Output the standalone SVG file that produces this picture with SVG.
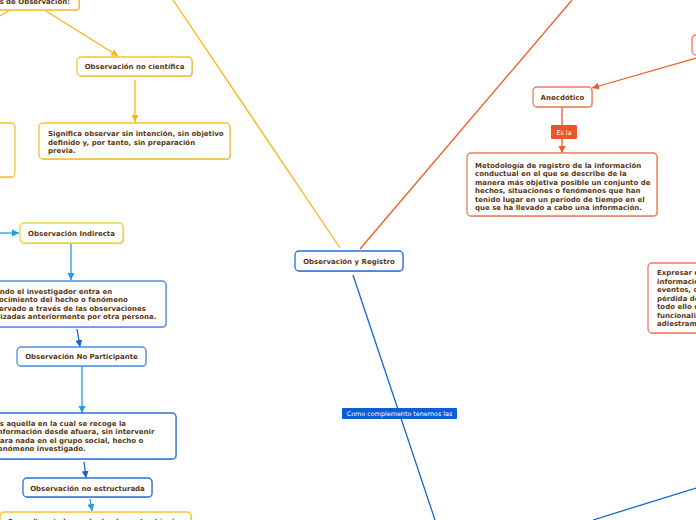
<svg xmlns="http://www.w3.org/2000/svg" width="696" height="520" viewBox="0 0 696 520">
<defs>
<style>
.t{font-family:"DejaVu Sans",Verdana,sans-serif;font-weight:bold;font-size:7px;fill:#5c3813}
.c{text-anchor:middle}
.lbl{font-family:"DejaVu Sans",Verdana,sans-serif;font-size:6.4px;fill:#ffffff;text-anchor:middle}
.box{fill:#ffffff;stroke-width:1.3}
.sh{fill:#c8c8c8}
.y{stroke:#f9c22e}
.yi{stroke:#e8d63a}
.o{stroke:#f27a58}
.b{stroke:#2a6fd8}
.bl{stroke:#4f8ee6}
.ln{fill:none;stroke-width:1.3}
</style>
<marker id="ay" markerWidth="8" markerHeight="8" refX="7" refY="4" orient="auto" markerUnits="userSpaceOnUse"><path d="M0,0.5 L7,4 L0,7.5 Z" fill="#fbb614"/></marker>
<marker id="ao" markerWidth="8" markerHeight="8" refX="7" refY="4" orient="auto" markerUnits="userSpaceOnUse"><path d="M0,0.5 L7,4 L0,7.5 Z" fill="#f15a24"/></marker>
<marker id="ab" markerWidth="8" markerHeight="8" refX="7" refY="4" orient="auto" markerUnits="userSpaceOnUse"><path d="M0,0.5 L7,4 L0,7.5 Z" fill="#1565d0"/></marker>
<marker id="alb" markerWidth="8" markerHeight="8" refX="7" refY="4" orient="auto" markerUnits="userSpaceOnUse"><path d="M0,0.5 L7,4 L0,7.5 Z" fill="#1a9ee8"/></marker>
</defs>

<g id="connectors">
<line class="ln" x1="173" y1="0" x2="340" y2="248" stroke="#fbb614"/>
<line class="ln" x1="572" y1="0" x2="360" y2="249" stroke="#f15a24"/>
<line class="ln" x1="353" y1="275" x2="435" y2="520" stroke="#1565d0"/>
<line class="ln" x1="593" y1="520" x2="696" y2="488" stroke="#1565d0"/>
<line class="ln" x1="10" y1="10" x2="0" y2="16" stroke="#fbb614"/>
<line class="ln" x1="46" y1="11" x2="118" y2="56" stroke="#fbb614" marker-end="url(#ay)"/>
<line class="ln" x1="135" y1="80" x2="135" y2="122" stroke="#fbb614" marker-end="url(#ay)"/>
<line class="ln" x1="696" y1="58" x2="592" y2="88" stroke="#f15a24" marker-end="url(#ao)"/>
<line class="ln" x1="562" y1="107" x2="562" y2="153" stroke="#f15a24" marker-end="url(#ao)"/>
<line class="ln" x1="0" y1="233" x2="19" y2="233" stroke="#1a9ee8" marker-end="url(#alb)"/>
<line class="ln" x1="71" y1="244" x2="71" y2="280" stroke="#1a9ee8" marker-end="url(#alb)"/>
<line class="ln" x1="77" y1="329" x2="80" y2="347" stroke="#1565d0" marker-end="url(#ab)"/>
<line class="ln" x1="82" y1="367" x2="82" y2="413" stroke="#1a9ee8" marker-end="url(#alb)"/>
<line class="ln" x1="84" y1="462" x2="86" y2="478" stroke="#1565d0" marker-end="url(#ab)"/>
<line class="ln" x1="90" y1="499" x2="92" y2="511" stroke="#1a9ee8" marker-end="url(#alb)"/>
</g>

<g id="label-como">
<rect x="342" y="408" width="115" height="11" rx="1" fill="#0a5fd6"/>
<text class="lbl" x="399.5" y="416">Como complemento tenemos las</text>
</g>
<g id="label-esla">
<rect x="551" y="125" width="26" height="14" rx="1" fill="#ea5628"/>
<text class="lbl" x="564" y="134.5">Es la</text>
</g>

<g id="n-tipos">
<rect class="sh" x="-59" y="-14" width="139" height="25" rx="4"/>
<rect class="box y" x="-60" y="-15" width="139" height="25" rx="4"/>
<text class="t" x="70" y="3.5" text-anchor="end">Tipos de Observación:</text>
</g>

<g id="n-noCientifica">
<rect class="sh" x="78" y="58" width="115" height="19" rx="4"/>
<rect class="box y" x="77" y="57" width="115" height="19" rx="4"/>
<text class="t c" x="134.5" y="69">Observación no científica</text>
</g>

<g id="n-significa">
<rect class="sh" x="40" y="124" width="191" height="36" rx="4"/>
<rect class="box y" x="39" y="123" width="191" height="36" rx="4"/>
<text class="t" x="48" y="136">Significa observar sin intención, sin objetivo</text>
<text class="t" x="48" y="144.5">definido y, por tanto, sin preparación</text>
<text class="t" x="48" y="153">previa.</text>
</g>

<g id="n-leftYellow">
<rect class="sh" x="-59" y="124" width="74" height="54" rx="4"/>
<rect class="box y" x="-60" y="123" width="75" height="54" rx="4"/>
</g>

<g id="n-main">
<rect class="sh" x="296" y="252" width="108" height="20" rx="4"/>
<rect class="box b" x="295" y="251" width="108" height="20" rx="4"/>
<text class="t c" x="349" y="264">Observación y Registro</text>
</g>

<g id="n-topRight">
<rect class="sh" x="693" y="36" width="60" height="20" rx="4"/>
<rect class="box o" x="692" y="35" width="60" height="20" rx="4"/>
</g>

<g id="n-anecdotico">
<rect class="sh" x="534" y="88" width="59" height="20" rx="4"/>
<rect class="box o" x="533" y="87" width="59" height="20" rx="4"/>
<text class="t c" x="562.5" y="99.5">Anecdótico</text>
</g>

<g id="n-metodologia">
<rect class="sh" x="468" y="154" width="190" height="63" rx="4"/>
<rect class="box o" x="467" y="153" width="190" height="63" rx="4"/>
<text class="t" x="475" y="167.5">Metodología de registro de la información</text>
<text class="t" x="475" y="176">conductual en el que se describe de la</text>
<text class="t" x="475" y="184.5">manera más objetiva posible un conjunto de</text>
<text class="t" x="475" y="193">hechos, situaciones o fenómenos que han</text>
<text class="t" x="475" y="201.5">tenido lugar en un período de tiempo en el</text>
<text class="t" x="475" y="210">que se ha llevado a cabo una información.</text>
</g>

<g id="n-expresar">
<rect class="sh" x="649" y="264" width="80" height="70" rx="4"/>
<rect class="box o" x="648" y="263" width="80" height="70" rx="4"/>
<text class="t" x="657" y="275">Expresar en</text>
<text class="t" x="657" y="283.5">información</text>
<text class="t" x="657" y="292">eventos, de</text>
<text class="t" x="657" y="300.5">pérdida de</text>
<text class="t" x="657" y="309">todo ello con</text>
<text class="t" x="657" y="317.5">funcionalidad</text>
<text class="t" x="657" y="326">adiestramiento</text>
</g>

<g id="n-indirecta">
<rect class="sh" x="21" y="224" width="103" height="20" rx="4"/>
<rect class="box yi" x="20" y="223" width="103" height="20" rx="4"/>
<text class="t c" x="71.5" y="235.5">Observación Indirecta</text>
</g>

<g id="n-cuando">
<rect class="sh" x="-59" y="282" width="226" height="46" rx="4"/>
<rect class="box bl" x="-60" y="281" width="226" height="46" rx="4"/>
<text class="t" x="-15" y="293.5">Cuando el investigador entra en</text>
<text class="t" x="-15" y="302">conocimiento del hecho o fenómeno</text>
<text class="t" x="-15" y="310.5">observado a través de las observaciones</text>
<text class="t" x="-15" y="319">realizadas anteriormente por otra persona.</text>
</g>

<g id="n-noParticipante">
<rect class="sh" x="18" y="348" width="129" height="19" rx="4"/>
<rect class="box bl" x="17" y="347" width="129" height="19" rx="4"/>
<text class="t c" x="81.5" y="359">Observación No Participante</text>
</g>

<g id="n-esAquella">
<rect class="sh" x="-59" y="414" width="236" height="46" rx="4"/>
<rect class="box b" x="-60" y="413" width="236" height="46" rx="4"/>
<text class="t" x="-5" y="425.5">Es aquella en la cual se recoge la</text>
<text class="t" x="-5" y="434">información desde afuera, sin intervenir</text>
<text class="t" x="-5" y="442.5">para nada en el grupo social, hecho o</text>
<text class="t" x="-5" y="451">fenómeno investigado.</text>
</g>

<g id="n-noEstructurada">
<rect class="sh" x="24" y="479" width="129" height="19" rx="4"/>
<rect class="box b" x="23" y="478" width="129" height="19" rx="4"/>
<text class="t c" x="87.5" y="490.5">Observación no estructurada</text>
</g>

<g id="n-seRealiza">
<rect class="sh" x="1" y="513" width="191" height="30" rx="4"/>
<rect class="box y" x="0" y="512" width="191" height="30" rx="4"/>
<text class="t" x="8" y="524">Se realiza sin la ayuda de elementos técnicos</text>
</g>
</svg>
